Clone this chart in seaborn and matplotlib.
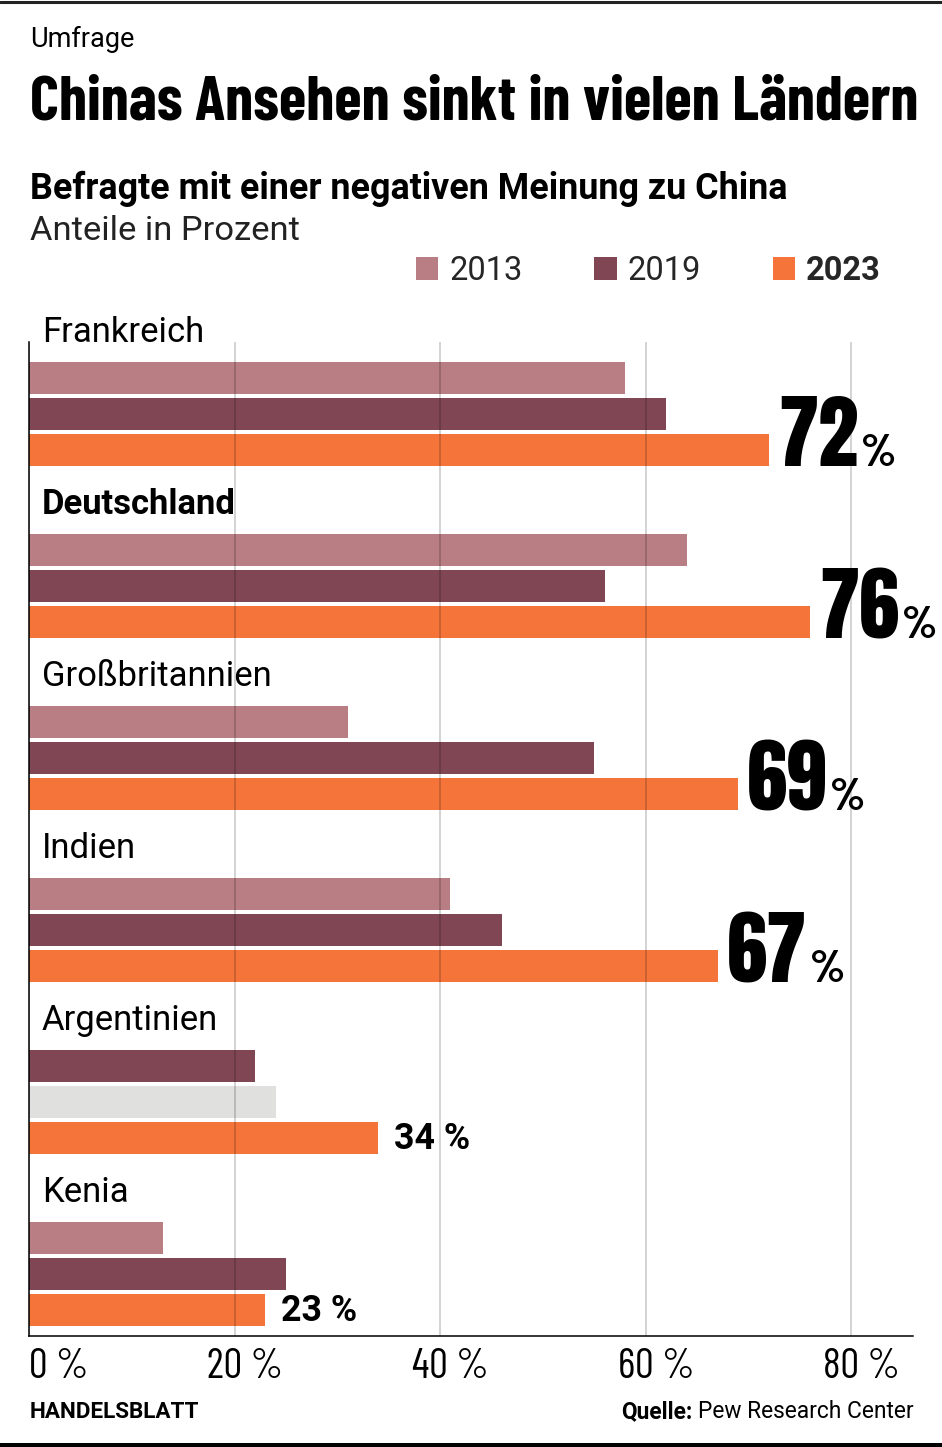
import matplotlib
matplotlib.use("Agg")
import matplotlib.pyplot as plt
import seaborn as sns
import pandas as pd
from matplotlib.lines import Line2D
from matplotlib.patches import Patch

# Daten (Anteile in Prozent)
laender = ["Frankreich", "Deutschland", "Großbritannien", "Indien", "Argentinien", "Kenia"]
jahre = ["2013", "2019", "2023"]
werte_2013 = [58, 64, 31, 41, 22, 13]
werte_2019 = [62, 56, 55, 46, 24, 25]
werte_2023 = [72, 76, 69, 67, 34, 23]
xticks = [0, 20, 40, 60, 80]

farben = ["#B87E83", "#804654", "#F5743A"]
grau = "#E0E0DF"

df = pd.DataFrame({
    "Land": laender * 3,
    "Jahr": [j for j in jahre for _ in laender],
    "Anteil": werte_2013 + werte_2019 + werte_2023,
})

sns.set_theme(style="white")
body = ["Roboto", "DejaVu Sans"]
narrow = ["Barlow Condensed", "Archivo Narrow", "DejaVu Sans"]
heavy = ["Anton", "Barlow Condensed", "DejaVu Sans"]
plt.rcParams["font.family"] = body

W, H = 942, 1447
fig = plt.figure(figsize=(W / 100, H / 100), dpi=100)
fig.patch.set_facecolor("white")


def px(x, y):
    return x / W, 1 - y / H


ax = fig.add_axes([29 / W, 1 - 1336 / H, (913 - 29) / W, (1336 - 342) / H])
sns.barplot(data=df, x="Anteil", y="Land", hue="Jahr", order=laender,
            hue_order=jahre, palette=farben, orient="h", width=0.628, gap=0.11,
            saturation=1, linewidth=0, legend=False, errorbar=None, ax=ax)

# Argentinien: abweichende Einfaerbung wie im Original
i_arg = laender.index("Argentinien")
ax.containers[0][i_arg].set_facecolor(farben[1])
ax.containers[1][i_arg].set_facecolor(grau)

ax.set_xlim(0, 86)
ax.set_ylim(5.36, -0.419)
ax.set(xlabel="", ylabel="")
ax.set_yticks([])
ax.set_xticks(xticks)
ax.set_xticklabels([])
ax.tick_params(length=0)
ax.set_axisbelow(False)
ax.grid(axis="x", color="black", alpha=0.22, lw=1.1)
ax.grid(axis="y", visible=False)
sns.despine(ax=ax)
for s in ["left", "bottom"]:
    ax.spines[s].set_color("black")
    ax.spines[s].set_linewidth(1.1)
    ax.spines[s].set_zorder(5)

renderer = fig.canvas.get_renderer()


def fit(t, width_px):
    w = t.get_window_extent(renderer).width
    t.set_fontsize(t.get_fontsize() * width_px / w)
    return t


# x-Achsenbeschriftung
for t in xticks:
    ax.text(t if t == 0 else t + 1, -42 / 994, f"{t} %", transform=ax.get_xaxis_transform(),
            ha="left" if t == 0 else "center", va="baseline", fontsize=30,
            family=narrow, color="black")

# Laendernamen
size_land = None
for i, land in enumerate(laender):
    t = ax.text(1.25, i - 0.419, land, ha="left", va="baseline", fontsize=24,
                fontweight="bold" if land == "Deutschland" else "normal",
                color="black", clip_on=False)
    if size_land is None:
        size_land = fit(t, 162).get_fontsize()
    t.set_fontsize(size_land)

# Werte 2023
for i, bar in enumerate(ax.containers[2]):
    v = werte_2023[i]
    y_bot = bar.get_y() + bar.get_height()
    if v >= 60:
        num = ax.annotate(f"{v}", xy=(v, y_bot), xytext=(6.5, 0), textcoords="offset points",
                          ha="left", va="baseline", fontsize=62, family=heavy, color="black")
        fit(num, 80)
        bb = num.get_window_extent(renderer)
        ax.annotate("%", xy=(v, y_bot), xytext=((bb.x1 - ax.transData.transform((v, 0))[0] + 3) * 0.72, 0),
                    textcoords="offset points", ha="left", va="baseline", fontsize=33,
                    fontweight="bold", family=narrow, color="black")
    else:
        t = ax.annotate(f"{v} %", xy=(v, y_bot), xytext=(11.5, 4), textcoords="offset points",
                        ha="left", va="baseline", fontsize=21, fontweight="bold", color="black")
        fit(t, 76)

# Kopf
fit(fig.text(*px(30, 47), "Umfrage", fontsize=16, color="black", va="baseline"), 104)
fit(fig.text(*px(30, 120), "Chinas Ansehen sinkt in vielen Ländern", fontsize=46,
             fontweight="bold", family=narrow, color="black", va="baseline"), 886)
fit(fig.text(*px(30, 199), "Befragte mit einer negativen Meinung zu China", fontsize=22,
             fontweight="bold", color="black", va="baseline"), 757)
fit(fig.text(*px(30, 240), "Anteile in Prozent", fontsize=22, color="#222222",
             va="baseline"), 269)

# Legende
handles = [Patch(facecolor=c, edgecolor="none") for c in farben]
leg = fig.legend(handles, jahre, loc="center left", bbox_to_anchor=px(416, 271),
                 frameon=False, fontsize=23.5, borderpad=0, borderaxespad=0, ncol=3,
                 handlelength=0.68, handleheight=0.68, handletextpad=0.34,
                 columnspacing=2.2)
leg.get_texts()[2].set_fontweight("bold")

# Fuss
fit(fig.text(*px(30, 1418), "HANDELSBLATT", fontsize=15, fontweight="bold",
             color="black", va="baseline"), 170)
src = fig.text(*px(914, 1418), "Pew Research Center", fontsize=16,
               color="black", ha="right", va="baseline")
fit(src, 217)
bb = src.get_window_extent(renderer)
fig.text(*px(bb.x0 - 6, 1418), "Quelle:", fontsize=src.get_fontsize(), fontweight="bold",
         color="black", ha="right", va="baseline")

# Rahmenlinien
fig.add_artist(Line2D([0, 1], [1 - 1.5 / H] * 2, color="#222222", lw=2.2))
fig.add_artist(Line2D([0, 1], [1 - 1444.5 / H] * 2, color="black", lw=3.6))

fig.savefig("out.png", dpi=100)
